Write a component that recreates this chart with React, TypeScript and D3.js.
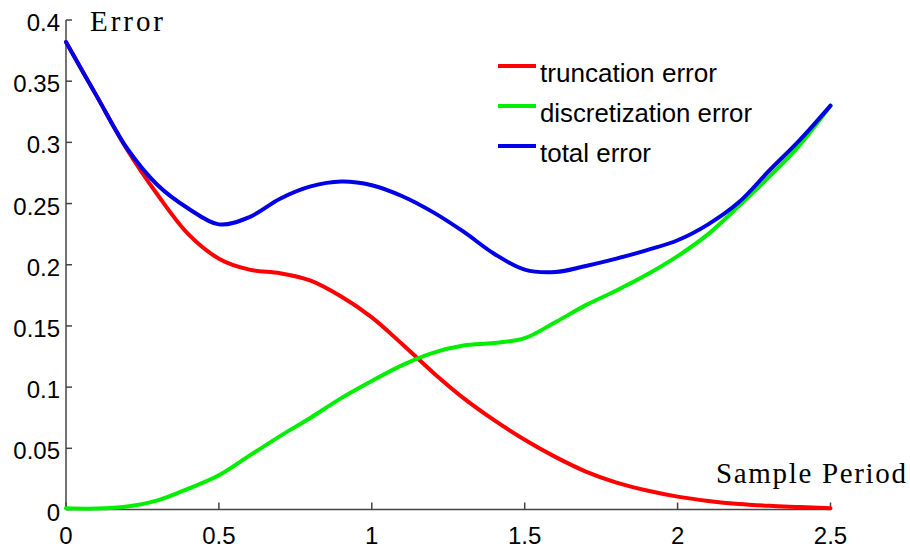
import React from "react";
import * as d3 from "d3";

const samplePeriod = [0, 0.1, 0.2, 0.3, 0.4, 0.5, 0.6, 0.7, 0.8, 0.9, 1.0, 1.1, 1.2, 1.3, 1.4, 1.5, 1.6, 1.7, 1.8, 1.9, 2.0, 2.1, 2.2, 2.3, 2.4, 2.5];
const truncationError = [0.382, 0.338, 0.294, 0.257, 0.225, 0.205, 0.196, 0.193, 0.187, 0.174, 0.157, 0.135, 0.112, 0.091, 0.073, 0.057, 0.043, 0.031, 0.022, 0.0155, 0.0105, 0.007, 0.0045, 0.003, 0.002, 0.001];
const discretizationError = [0.001, 0.0008, 0.0025, 0.0075, 0.017, 0.028, 0.044, 0.060, 0.075, 0.091, 0.105, 0.118, 0.128, 0.134, 0.136, 0.140, 0.153, 0.167, 0.179, 0.192, 0.207, 0.225, 0.248, 0.272, 0.298, 0.330];
const totalError = [0.382, 0.338, 0.295, 0.265, 0.246, 0.233, 0.239, 0.254, 0.264, 0.268, 0.265, 0.256, 0.243, 0.227, 0.209, 0.196, 0.194, 0.199, 0.205, 0.212, 0.220, 0.233, 0.251, 0.277, 0.302, 0.330];

const seriesNames = ["truncation error", "discretization error", "total error"];
const seriesColors = ["#ff0000", "#00ee00", "#0000e6"];
const xTicks = [0, 0.5, 1, 1.5, 2, 2.5];
const xTickLabels = ["0", "0.5", "1", "1.5", "2", "2.5"];
const yTicks = [0, 0.05, 0.1, 0.15, 0.2, 0.25, 0.3, 0.35, 0.4];
const yTickLabels = ["0", "0.05", "0.1", "0.15", "0.2", "0.25", "0.3", "0.35", "0.4"];

export default function App() {
  const W = 910, H = 548;
  const x = d3.scaleLinear().domain([0, 2.5]).range([66, 830.5]);
  const y = d3.scaleLinear().domain([0, 0.4]).range([509.5, 20]);
  const allSeries = [truncationError, discretizationError, totalError];
  const line = d3
    .line<number>()
    .x((_, i) => x(samplePeriod[i]))
    .y((d) => y(d))
    .curve(d3.curveCatmullRom.alpha(0.5));
  const axisColor = "#444";
  const sans = "'Liberation Sans', Arial, sans-serif";
  const serif = "'Liberation Serif', 'Times New Roman', serif";
  return (
    <svg width={W} height={H} style={{ position: "absolute", left: 0, top: 0, background: "#fff" }}>
      <rect x={0} y={0} width={W} height={H} fill="#fff" />
      <line x1={x(0)} x2={x(0)} y1={y(0.4)} y2={y(0)} stroke={axisColor} strokeWidth={1.5} />
      <line x1={x(0)} x2={x(2.5)} y1={y(0)} y2={y(0)} stroke={axisColor} strokeWidth={1.5} />
      {yTicks.map((t, i) => (
        <g key={"y" + i}>
          <line x1={x(0)} x2={x(0) + 6} y1={y(t)} y2={y(t)} stroke={axisColor} strokeWidth={1.5} />
          <text x={60} y={y(t) + 11} textAnchor="end" fontFamily={sans} fontSize={24} fill="#000">
            {yTickLabels[i]}
          </text>
        </g>
      ))}
      {xTicks.map((t, i) => (
        <g key={"x" + i}>
          <line x1={x(t)} x2={x(t)} y1={y(0)} y2={y(0) - 7} stroke={axisColor} strokeWidth={1.5} />
          <text x={x(t)} y={544} textAnchor="middle" fontFamily={sans} fontSize={24} fill="#000">
            {xTickLabels[i]}
          </text>
        </g>
      ))}
      <text x={90} y={31} fontFamily={serif} fontSize={29} textLength={73} lengthAdjust="spacing" fill="#000">
        Error
      </text>
      <text x={716} y={483} fontFamily={serif} fontSize={29} textLength={190} lengthAdjust="spacing" fill="#000">
        Sample Period
      </text>
      {allSeries.map((s, i) => (
        <path key={"s" + i} d={line(s) || ""} fill="none" stroke={seriesColors[i]} strokeWidth={4} strokeLinejoin="round" strokeLinecap="round" />
      ))}
      {seriesNames.map((n, i) => (
        <g key={"l" + i}>
          <line x1={498} x2={536} y1={66 + i * 40} y2={66 + i * 40} stroke={seriesColors[i]} strokeWidth={4} />
          <text
            x={540}
            y={82 + i * 40}
            fontFamily={sans}
            fontSize={25}
            fill="#000"
            textLength={[177, 212, 111][i]}
            lengthAdjust="spacingAndGlyphs"
          >
            {n}
          </text>
        </g>
      ))}
    </svg>
  );
}
